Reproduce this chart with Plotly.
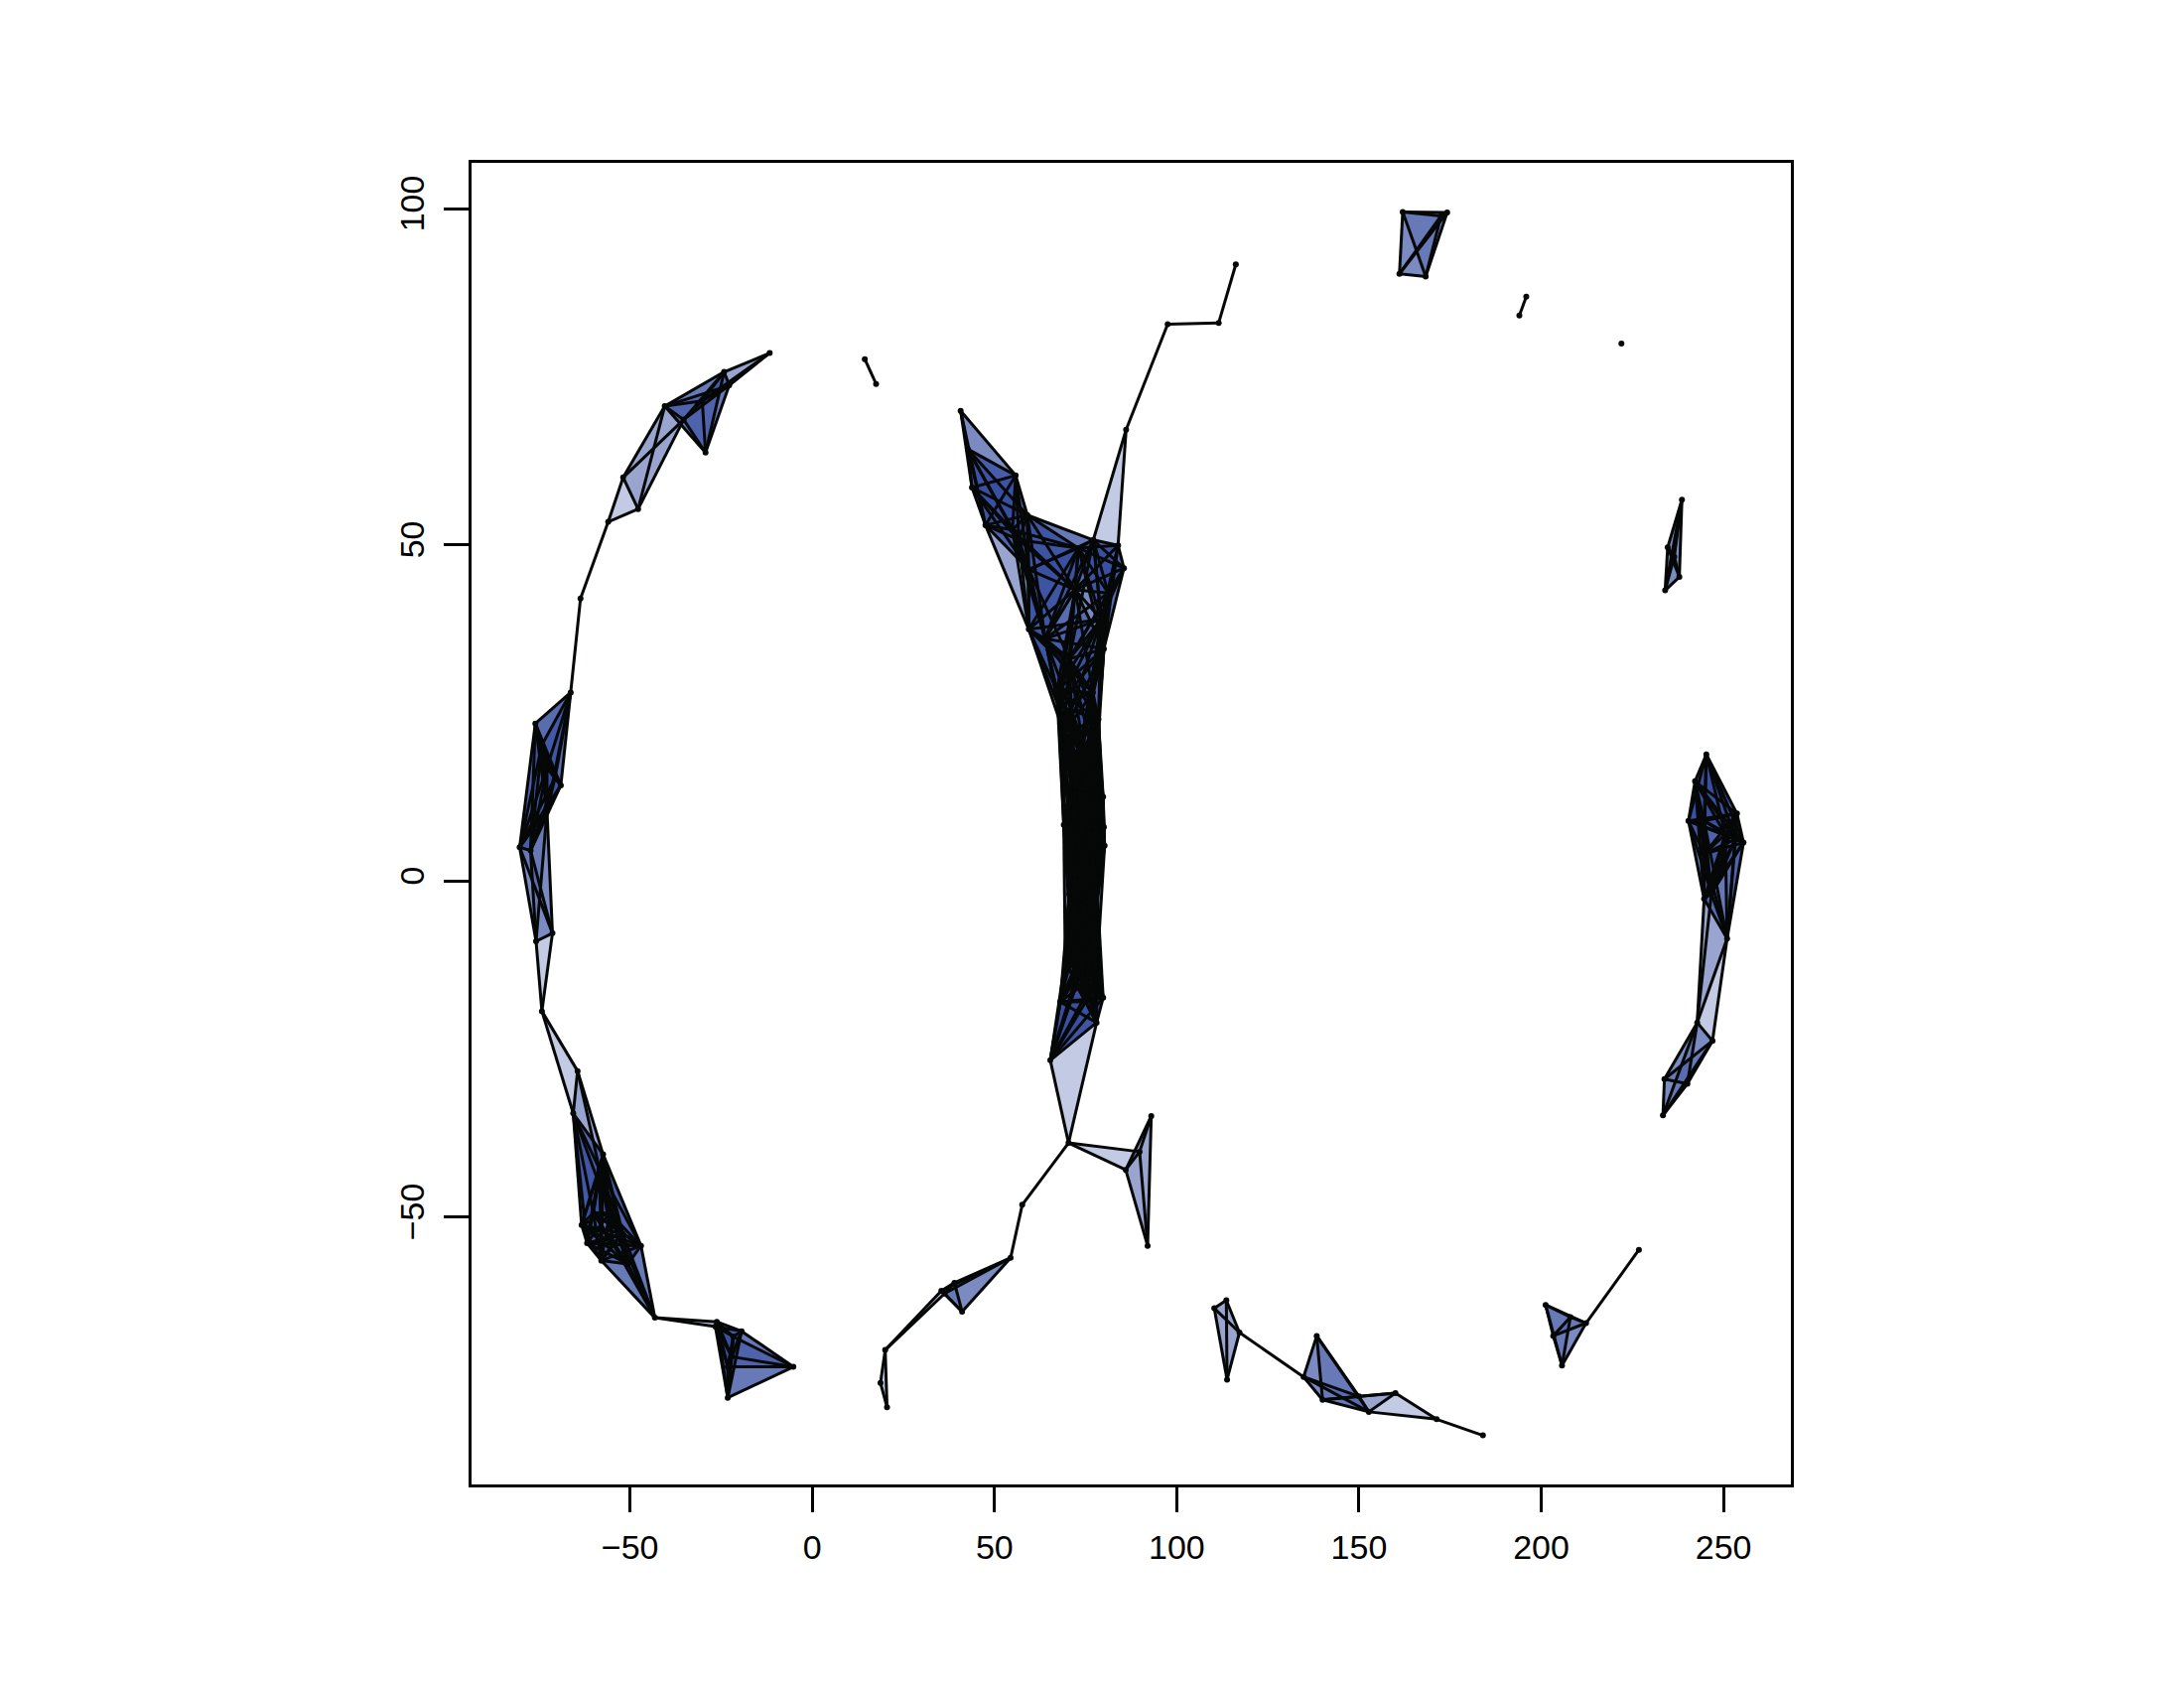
"""
Vietoris-Rips-Komplex auf einer Punktwolke (zwei Ringe), R-Optik.
"""
from itertools import combinations

import plotly.graph_objects as go

# Kanten/Dreiecke entstehen aus dem Abstand der Punkte
RIPS_RADIUS = 20.2

arc_top_left = [
    (-11.7, 78.5), (-24.2, 75.7), (-22.8, 73.7), (-40.5, 70.6), (-29.3, 63.7), (-35.3, 68.6),
    (-30.2, 71.4), (-51.9, 60.0), (-47.8, 55.3), (-56.0, 53.4), (-63.6, 42.0),
]
arc_left = [
    (-66.3, 28.0), (-76.0, 23.4), (-69.0, 14.2), (-74.2, 20.2), (-72.8, 16.8),
    (-70.6, 15.3), (-72.8, 10.4), (-80.3, 5.0), (-77.3, 4.5),
    (-71.3, -7.8), (-75.8, -9.0), (-74.2, -19.4),
]
arc_bottom_left = [
    (-64.4, -28.3), (-65.6, -34.6), (-57.4, -40.7), (-58.4, -42.9), (-63.3, -51.2), (-61.8, -53.9),
    (-57.9, -56.5), (-47.0, -54.3), (-50.6, -57.0), (-55.6, -49.4), (-60.1, -49.4),
    (-54.7, -54.0), (-52.0, -52.5), (-43.2, -65.0), (-26.2, -65.6),
    (-19.4, -67.0), (-21.7, -67.8), (-23.2, -76.9), (-5.2, -72.3), (-23.2, -72.3), (-22.1, -70.8),
    (-26.6, -66.3),
]
arc_bottom = [
    (20.5, -78.3), (18.7, -74.7), (20.0, -69.8), (35.4, -61.0), (36.3, -61.4), (39.0, -59.8),
    (41.1, -64.1), (54.4, -56.1), (57.6, -48.2),
]
junction = [
    (70.3, -39.0), (86.0, -43.0), (93.0, -35.0), (92.0, -54.3), (89.8, -40.3), (65.3, -26.7),
    (78.0, -21.1), (79.8, -17.4),
]
band = [
    (67.5, 26.0), (77.0, 28.0), (78.5, 24.0), (69.0, 22.0), (74.0, 21.0),
    (71.0, 16.0), (78.0, 17.0), (72.0, 14.0), (78.0, 13.5), (79.8, 12.5), (74.0, 11.0),
    (70.5, 9.0), (69.0, 8.3), (76.0, 8.0), (80.0, 8.0), (73.0, 6.0), (80.2, 5.2), (71.0, 4.0),
    (77.0, 3.0), (72.0, 1.0), (78.0, 0.0), (70.5, -2.0), (75.0, -3.0), (72.0, -5.0), (77.5, -6.0),
    (71.0, -9.0), (76.0, -10.0), (69.4, -11.8), (74.0, -13.0), (72.0, -15.0), (78.0, -14.0),
    (68.0, -18.0), (75.0, -18.0),
]
fan_top = [
    (40.7, 69.9), (42.7, 64.2), (43.8, 58.5), (55.8, 60.3), (47.5, 52.9), (59.0, 54.4),
    (54.9, 52.2), (56.7, 50.7), (59.4, 46.3), (59.4, 37.4), (73.0, 49.5),
    (77.1, 50.7), (83.9, 49.9), (85.5, 46.5), (86.1, 67.1), (80.0, 34.5), (67.1, 28.3), (72.1, 43.3),
    (81.2, 42.8), (79.3, 38.9), (63.9, 36.0), (70.5, 33.0),
]
tail_top = [(97.5, 82.8), (111.5, 83.0), (116.2, 91.7)]
pair_top_left = [(14.4, 77.6), (17.5, 73.9)]
arc_bottom_right = [
    (110.3, -63.6), (113.6, -62.4), (117.2, -67.2), (113.8, -74.2), (134.8, -73.8),
    (138.4, -67.7), (140.0, -77.2), (152.7, -79.0), (160.0, -76.2), (171.3, -80.1), (184.0, -82.5),
    (150.0, -76.7),
]
wedge_right = [
    (226.8, -54.9), (212.3, -65.8), (201.2, -63.1), (203.3, -67.7), (205.7, -72.1), (208.0, -64.9),
]
arc_right = [
    (245.3, 18.8), (242.2, 14.8), (240.4, 8.9), (253.7, 10.0), (255.5, 5.7), (244.7, 8.9),
    (250.5, 6.9), (244.7, 4.0), (253.3, 6.2), (244.7, -2.7), (246.7, -1.9), (251.0, -8.6), (242.8, -21.1),
    (247.0, -23.8), (233.8, -29.5), (240.1, -30.2), (233.4, -34.9),
]
box_top = [(162.0, 99.5), (174.2, 99.4), (161.1, 90.3), (168.3, 89.9), (172.5, 98.9)]
pair_top_right = [(195.9, 86.9), (194.0, 84.1)]
lone_point = [(222.0, 79.9)]
sliver_right = [(238.6, 56.7), (234.7, 49.6), (237.9, 45.2), (234.0, 43.2), (236.5, 48.2)]

x_ticks = [-50, 0, 50, 100, 150, 200, 250]
y_ticks = [-50, 0, 50, 100]

nodes = (
    arc_top_left + arc_left + arc_bottom_left + arc_bottom + junction + band + fan_top + tail_top
    + pair_top_left + arc_bottom_right + wedge_right + arc_right + box_top + pair_top_right
    + lone_point + sliver_right
)

BLACK = '#060808'
FILL = 'rgba(57,78,163,0.3)'
N_LAYERS = 30


def near(a, b):
    (ax, ay), (bx, by) = nodes[a], nodes[b]
    return (ax - bx) ** 2 + (ay - by) ** 2 <= RIPS_RADIUS ** 2


neighbours = {i: set() for i in range(len(nodes))}
edges = []
for a, b in combinations(range(len(nodes)), 2):
    if near(a, b):
        neighbours[a].add(b)
        neighbours[b].add(a)
        edges.append((a, b))

triangles = []
for a, b in edges:
    for c in neighbours[a] & neighbours[b]:
        if c > b:
            triangles.append((a, b, c))


def bbox(tri):
    xs = [nodes[i][0] for i in tri]
    ys = [nodes[i][1] for i in tri]
    return min(xs), max(xs), min(ys), max(ys)


def overlaps(p, q):
    return p[0] < q[1] and q[0] < p[1] and p[2] < q[3] and q[2] < p[3]


def ccw(tri):
    (ax, ay), (bx, by), (cx, cy) = (nodes[i] for i in tri)
    if (bx - ax) * (cy - ay) - (by - ay) * (cx - ax) < 0:
        return tri[0], tri[2], tri[1]
    return tri


# Dreiecke ohne Überlappung teilen sich eine Spur, sonst wären es tausende Traces
layers = [[] for _ in range(N_LAYERS)]
boxes = [[] for _ in range(N_LAYERS)]
for tri in triangles:
    box = bbox(tri)
    for k in range(N_LAYERS):
        if k == N_LAYERS - 1 or not any(overlaps(box, other) for other in boxes[k]):
            layers[k].append(ccw(tri))
            boxes[k].append(box)
            break

fig = go.Figure()

for layer in layers:
    if not layer:
        continue
    xs, ys = [], []
    for tri in layer:
        xs += [nodes[i][0] for i in tri] + [nodes[tri[0]][0], None]
        ys += [nodes[i][1] for i in tri] + [nodes[tri[0]][1], None]
    fig.add_trace(go.Scatter(
        x=xs, y=ys,
        mode='lines',
        fill='toself',
        fillcolor=FILL,
        line=dict(width=0, simplify=False),
        hoverinfo='skip',
    ))

edge_x, edge_y = [], []
for a, b in edges:
    edge_x += [nodes[a][0], nodes[b][0], None]
    edge_y += [nodes[a][1], nodes[b][1], None]
fig.add_trace(go.Scatter(
    x=edge_x, y=edge_y,
    mode='lines',
    line=dict(color=BLACK, width=3, simplify=False),
    hoverinfo='skip',
))
fig.add_trace(go.Scatter(
    x=[n[0] for n in nodes], y=[n[1] for n in nodes],
    mode='markers',
    marker=dict(color=BLACK, size=6),
    hoverinfo='skip',
))

axis_style = dict(
    showgrid=False, zeroline=False,
    showline=True, mirror=True, linecolor='black', linewidth=3,
    ticks='outside', ticklen=25, tickwidth=3, tickcolor='black',
    ticklabelstandoff=6,
    tickfont=dict(family='Liberation Sans', size=34, color='black'),
)
fig.update_layout(
    width=2200, height=1700,
    autosize=False,
    showlegend=False,
    plot_bgcolor='white', paper_bgcolor='white',
    margin=dict(l=467, r=404, t=156, b=213, pad=0),
    xaxis=dict(range=[-93.5, 268.5], tickvals=x_ticks, **axis_style),
    yaxis=dict(range=[-89.8, 106.8], tickvals=y_ticks, tickangle=-90, **axis_style),
)

fig.write_html("out.html")
